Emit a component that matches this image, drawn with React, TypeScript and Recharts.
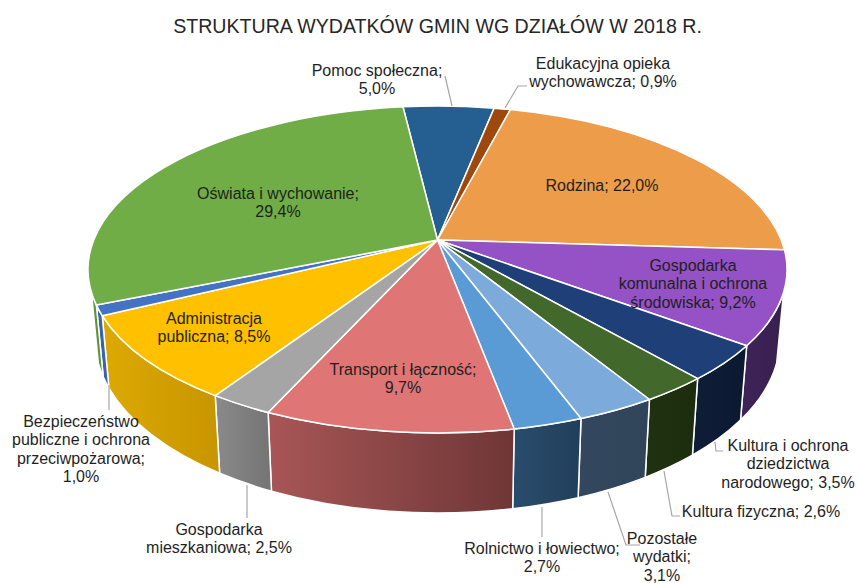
import { PieChart, Pie } from 'recharts';

const categories = [
  'Pomoc społeczna',
  'Edukacyjna opieka wychowawcza',
  'Rodzina',
  'Gospodarka komunalna i ochrona środowiska',
  'Kultura i ochrona dziedzictwa narodowego',
  'Kultura fizyczna',
  'Pozostałe wydatki',
  'Rolnictwo i łowiectwo',
  'Transport i łączność',
  'Gospodarka mieszkaniowa',
  'Administracja publiczna',
  'Bezpieczeństwo publiczne i ochrona przeciwpożarowa',
  'Oświata i wychowanie',
];
const shares = [5.0, 0.9, 22.0, 9.2, 3.5, 2.6, 3.1, 2.7, 9.7, 2.5, 8.5, 1.0, 29.4];

const labelLines = [
  ['Pomoc społeczna;', '5,0%'],
  ['Edukacyjna opieka', 'wychowawcza; 0,9%'],
  ['Rodzina; 22,0%'],
  ['Gospodarka', 'komunalna i ochrona', 'środowiska; 9,2%'],
  ['Kultura i ochrona', 'dziedzictwa', 'narodowego; 3,5%'],
  ['Kultura fizyczna; 2,6%'],
  ['Pozostałe', 'wydatki;', '3,1%'],
  ['Rolnictwo i łowiectwo;', '2,7%'],
  ['Transport i łączność;', '9,7%'],
  ['Gospodarka', 'mieszkaniowa; 2,5%'],
  ['Administracja', 'publiczna; 8,5%'],
  ['Bezpieczeństwo', 'publiczne i ochrona', 'przeciwpożarowa;', '1,0%'],
  ['Oświata i wychowanie;', '29,4%'],
];

const topColors = ['#255E91', '#9E480E', '#ED9D4A', '#9452C6', '#1F3F78', '#43682B', '#7CAADB', '#5B9BD5', '#E07575', '#A5A5A5', '#FFC000', '#4472C4', '#70AD47'];
const sideLight = ['#1B4568', '#6E320A', '#A86F33', '#3E2359', '#0F1E38', '#1F3210', '#33485E', '#2A4C6C', '#A85656', '#8A8A8A', '#DDA903', '#3A63AA', '#5F9A3C'];
const sideDark = ['#1B4568', '#6E320A', '#A86F33', '#38204F', '#0C1830', '#1C2D0E', '#30445A', '#213F5A', '#6F3636', '#747474', '#C79500', '#3A63AA', '#5A8F3A'];

// text centre x, first line centre y
const labelSpots = [
  [377, 70], [603, 63], [602, 185], [693, 265], [788, 445], [761, 511], [662, 538],
  [542, 548], [403, 369], [219, 529], [214, 318], [81, 421], [278, 193],
];
const leaders = [
  '445,76 452,106', '527,86 518,86 505,108', '', '', '723,451 716,451 715,442', '680,516 672,516 664,471',
  '640,545 626,545 608,492', '542,537 542,507', '', '247,518 247,485', '', '109,410 109,385', '',
];

const pieData = categories.map((name, i) => ({ name, value: shares[i], fill: topColors[i] }));

// the "3D" disc: top ellipse and the lower one, both in screen pixels
const TILT = 0.46;
const TOP_CY = 269.5;
const TOP_RY = 163.5;
const LOW_CY = 339;
const LOW_RY = 174;
const LOW_SCALE = 0.98;
const FRONT_MIN = 0.14;

function rimAngle(angle: number, cx: number, cy: number, rx: number) {
  // angle is the recharts one, 90 = top, decreasing clockwise
  const a = ((90 - angle) * Math.PI) / 180;
  const dx = Math.sin(a);
  const dy = -TILT * Math.cos(a);
  const off = cy - TOP_CY;
  const qa = (dx * dx) / (rx * rx) + (dy * dy) / (TOP_RY * TOP_RY);
  const qb = (2 * dy * off) / (TOP_RY * TOP_RY);
  const qc = (off * off) / (TOP_RY * TOP_RY) - 1;
  const t = (-qb + Math.sqrt(qb * qb - 4 * qa * qc)) / (2 * qa);
  const px = t * dx;
  const py = t * dy + off;
  return Math.atan2(py / TOP_RY, px / rx);
}

// keep phi running with the slices (clockwise on screen)
function unwrap(phi: number, after: number) {
  let p = phi;
  while (p < after) p += Math.PI * 2;
  return p;
}

function topShape(props: any) {
  const { cx, cy, outerRadius: rx, startAngle, endAngle, fill } = props;
  const p0 = rimAngle(startAngle, cx, cy, rx);
  const p1 = unwrap(rimAngle(endAngle, cx, cy, rx), p0);
  const x0 = cx + rx * Math.cos(p0);
  const y0 = TOP_CY + TOP_RY * Math.sin(p0);
  const x1 = cx + rx * Math.cos(p1);
  const y1 = TOP_CY + TOP_RY * Math.sin(p1);
  const large = p1 - p0 > Math.PI ? 1 : 0;
  const d = `M${cx},${cy}L${x0},${y0}A${rx},${TOP_RY} 0 ${large} 1 ${x1},${y1}Z`;
  return <path d={d} fill={fill} stroke="#fff" strokeWidth={1.5} strokeLinejoin="round" />;
}

function sideShape(props: any) {
  const { cx, cy, outerRadius: rx, startAngle, endAngle, index } = props;
  let p0 = rimAngle(startAngle, cx, cy, rx);
  if (p0 < -Math.PI / 2) p0 += Math.PI * 2;
  const p1 = unwrap(rimAngle(endAngle, cx, cy, rx), p0);
  const a = Math.max(p0, FRONT_MIN);
  const b = Math.min(p1, Math.PI - FRONT_MIN);
  if (b <= a) return <g />;
  const rl = rx * LOW_SCALE;
  const d =
    `M${cx + rx * Math.cos(a)},${TOP_CY + TOP_RY * Math.sin(a)}` +
    `A${rx},${TOP_RY} 0 0 1 ${cx + rx * Math.cos(b)},${TOP_CY + TOP_RY * Math.sin(b)}` +
    `L${cx + rl * Math.cos(b)},${LOW_CY + LOW_RY * Math.sin(b)}` +
    `A${rl},${LOW_RY} 0 0 0 ${cx + rl * Math.cos(a)},${LOW_CY + LOW_RY * Math.sin(a)}Z`;
  const id = `side-${index}`;
  return (
    <g>
      <linearGradient id={id} x1="0" x2="1" y1="0" y2="0">
        <stop offset="0" stopColor={sideLight[index]} />
        <stop offset="1" stopColor={sideDark[index]} />
      </linearGradient>
      <path d={d} fill={`url(#${id})`} stroke="#fff" strokeWidth={1.5} strokeLinejoin="round" />
    </g>
  );
}

function sliceLabel(props: any) {
  const i = props.index;
  const [x, y] = labelSpots[i];
  return (
    <g>
      {leaders[i] && <polyline points={leaders[i]} fill="none" stroke="#A6A6A6" strokeWidth={1.2} />}
      {labelLines[i].map((line, k) => (
        <text
          key={line}
          x={x}
          y={y + k * 18.5}
          textAnchor="middle"
          dominantBaseline="central"
          fontFamily="Liberation Sans"
          fontSize={16}
          fill="#1F1F1F"
        >
          {line}
        </text>
      ))}
    </g>
  );
}

export default function App() {
  return (
    <div style={{ position: 'absolute', left: 0, top: 0, width: 857, height: 583 }}>
      <PieChart width={857} height={583} margin={{ top: 0, right: 0, bottom: 0, left: 0 }}>
        <text x={437.5} y={26} textAnchor="middle" dominantBaseline="central" fontFamily="Liberation Sans" fontSize={19.6} fill="#262626">
          STRUKTURA WYDATKÓW GMIN WG DZIAŁÓW W 2018 R.
        </text>
        <Pie
          data={pieData}
          dataKey="value"
          nameKey="name"
          cx={437.5}
          cy={240}
          outerRadius={349.5}
          startAngle={96.8}
          endAngle={-263.2}
          shape={sideShape}
          isAnimationActive={false}
          legendType="none"
        />
        <Pie
          data={pieData}
          dataKey="value"
          nameKey="name"
          cx={437.5}
          cy={240}
          outerRadius={349.5}
          startAngle={96.8}
          endAngle={-263.2}
          shape={topShape}
          label={sliceLabel}
          labelLine={false}
          isAnimationActive={false}
          legendType="none"
        />
      </PieChart>
    </div>
  );
}
